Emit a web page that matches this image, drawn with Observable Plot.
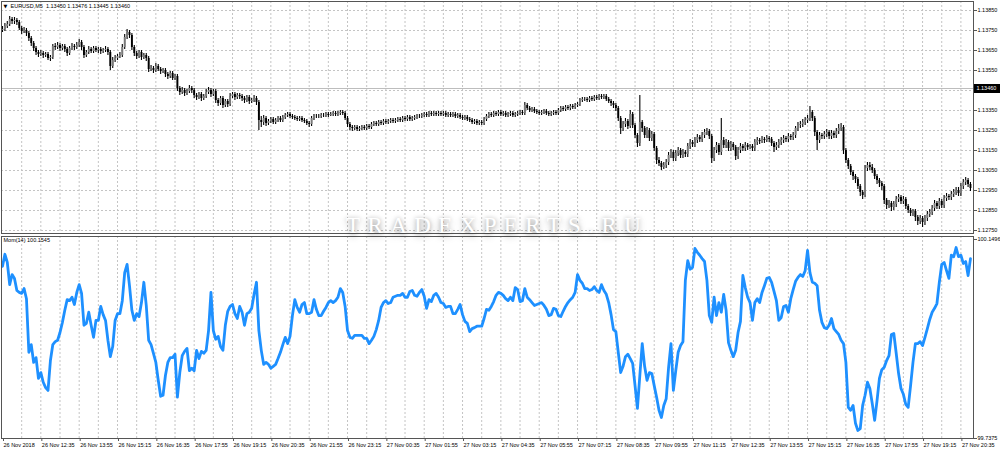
<!DOCTYPE html>
<html><head><meta charset="utf-8">
<script src="https://cdn.jsdelivr.net/npm/d3@7"></script>
<script src="https://cdn.jsdelivr.net/npm/@observablehq/plot@0.6"></script>
<style>
body{margin:0;background:#fff;}
#wrap{position:relative;width:1000px;height:455px;overflow:hidden;background:#fff;}
#wrap svg{display:block;}
#wm{position:absolute;left:346px;top:214px;font-family:"Liberation Serif",serif;font-size:23px;line-height:1;letter-spacing:7.4px;color:#fff;white-space:nowrap;pointer-events:none;text-shadow:0 3px 7px rgba(0,0,0,0.38),0 0 4px rgba(0,0,0,0.22);}
</style></head>
<body><div id="wrap"><div id="price"></div><div id="mom"></div><div id="wm">TRADEXPERTS.RU</div></div>
<script>
// ---- data ----
const symbol = "EURUSD,M5";
const headerValues = [1.13450, 1.13476, 1.13445, 1.13460];
const currentPrice = 1.13460;
const gridPrices = [1.12750, 1.12850, 1.12950, 1.13050, 1.13150, 1.13250, 1.13350, 1.13450, 1.13550, 1.13650, 1.13750, 1.13850];
const priceTicks = [1.12750, 1.12850, 1.12950, 1.13050, 1.13150, 1.13250, 1.13350, 1.13550, 1.13650, 1.13750, 1.13850];
const momLabel = "Mom(14) 100.1545";
const momTicks = [100.1496, 99.7375];
const timeLabels = ["26 Nov 2018","26 Nov 12:35","26 Nov 13:55","26 Nov 15:15","26 Nov 16:35","26 Nov 17:55","26 Nov 19:15","26 Nov 20:35","26 Nov 21:55","26 Nov 23:15","27 Nov 00:35","27 Nov 01:55","27 Nov 03:15","27 Nov 04:35","27 Nov 05:55","27 Nov 07:15","27 Nov 08:35","27 Nov 09:55","27 Nov 11:15","27 Nov 12:35","27 Nov 13:55","27 Nov 15:15","27 Nov 16:35","27 Nov 17:55","27 Nov 19:15","27 Nov 20:35"];
const firstBar = "2018-11-26T11:15:00Z"; // M5 bars
const firstOpen = 1.13750;
const closes = [
1.13755,1.13770,1.13780,1.13805,1.13795,1.13800,1.13790,1.13760,1.13745,1.13750,
1.13735,1.13710,1.13685,1.13660,1.13640,1.13630,1.13635,1.13625,1.13630,1.13610,
1.13615,1.13670,1.13665,1.13675,1.13660,1.13670,1.13655,1.13635,1.13660,1.13670,
1.13665,1.13675,1.13690,1.13665,1.13625,1.13640,1.13655,1.13645,1.13660,1.13650,
1.13655,1.13645,1.13650,1.13655,1.13640,1.13570,1.13600,1.13610,1.13620,1.13625,
1.13665,1.13715,1.13740,1.13725,1.13665,1.13635,1.13620,1.13640,1.13615,1.13625,
1.13610,1.13555,1.13560,1.13550,1.13570,1.13555,1.13545,1.13550,1.13530,1.13520,
1.13535,1.13510,1.13520,1.13460,1.13440,1.13450,1.13435,1.13445,1.13460,1.13450,
1.13425,1.13415,1.13430,1.13410,1.13420,1.13440,1.13450,1.13430,1.13445,1.13400,
1.13385,1.13410,1.13375,1.13395,1.13380,1.13420,1.13430,1.13415,1.13425,1.13420,
1.13410,1.13400,1.13415,1.13395,1.13400,1.13410,1.13390,1.13300,1.13290,1.13310,
1.13285,1.13295,1.13305,1.13290,1.13300,1.13310,1.13300,1.13315,1.13325,1.13330,
1.13320,1.13315,1.13310,1.13305,1.13310,1.13300,1.13295,1.13285,1.13280,1.13310,
1.13320,1.13320,1.13320,1.13325,1.13325,1.13330,1.13325,1.13330,1.13335,1.13330,
1.13335,1.13340,1.13335,1.13310,1.13280,1.13265,1.13260,1.13265,1.13255,1.13260,
1.13265,1.13260,1.13270,1.13265,1.13280,1.13285,1.13280,1.13290,1.13285,1.13295,
1.13290,1.13295,1.13300,1.13295,1.13300,1.13305,1.13300,1.13310,1.13305,1.13315,
1.13305,1.13310,1.13315,1.13320,1.13320,1.13325,1.13330,1.13325,1.13335,1.13330,
1.13335,1.13330,1.13335,1.13330,1.13335,1.13325,1.13330,1.13325,1.13330,1.13320,
1.13325,1.13315,1.13310,1.13315,1.13305,1.13300,1.13290,1.13295,1.13285,1.13290,
1.13285,1.13305,1.13320,1.13330,1.13325,1.13335,1.13330,1.13340,1.13330,1.13335,
1.13325,1.13330,1.13335,1.13325,1.13330,1.13335,1.13340,1.13335,1.13375,1.13360,
1.13350,1.13355,1.13345,1.13340,1.13335,1.13340,1.13345,1.13335,1.13330,1.13335,
1.13340,1.13335,1.13350,1.13360,1.13355,1.13365,1.13360,1.13370,1.13365,1.13375,
1.13380,1.13400,1.13405,1.13405,1.13400,1.13410,1.13405,1.13415,1.13410,1.13420,
1.13415,1.13420,1.13405,1.13395,1.13385,1.13375,1.13360,1.13310,1.13260,1.13280,
1.13295,1.13270,1.13330,1.13275,1.13225,1.13185,1.13290,1.13260,1.13225,1.13250,
1.13210,1.13230,1.13160,1.13100,1.13085,1.13065,1.13075,1.13090,1.13125,1.13140,
1.13110,1.13135,1.13150,1.13125,1.13140,1.13130,1.13170,1.13190,1.13180,1.13200,
1.13215,1.13205,1.13225,1.13240,1.13245,1.13220,1.13110,1.13150,1.13175,1.13140,
1.13200,1.13175,1.13190,1.13160,1.13180,1.13165,1.13120,1.13150,1.13170,1.13160,
1.13175,1.13165,1.13170,1.13160,1.13190,1.13200,1.13195,1.13205,1.13200,1.13210,
1.13205,1.13185,1.13165,1.13175,1.13190,1.13200,1.13210,1.13205,1.13220,1.13215,
1.13225,1.13260,1.13275,1.13280,1.13290,1.13300,1.13310,1.13340,1.13310,1.13240,
1.13200,1.13225,1.13220,1.13230,1.13240,1.13220,1.13235,1.13225,1.13245,1.13260,
1.13265,1.13150,1.13100,1.13070,1.13040,1.13020,1.13005,1.12970,1.12940,1.12925,
1.13060,1.13075,1.13065,1.13050,1.13020,1.13000,1.12985,1.12970,1.12900,1.12875,
1.12885,1.12865,1.12880,1.12905,1.12915,1.12895,1.12905,1.12870,1.12850,1.12835,
1.12845,1.12815,1.12795,1.12810,1.12790,1.12810,1.12830,1.12840,1.12860,1.12885,
1.12870,1.12895,1.12875,1.12910,1.12920,1.12915,1.12930,1.12940,1.12950,1.12935,
1.12970,1.12990,1.13000,1.12980,1.12960];
const highs = [
1.13770,1.13785,1.13795,1.13820,1.13815,1.13815,1.13810,1.13800,1.13770,1.13765,
1.13760,1.13745,1.13720,1.13695,1.13670,1.13650,1.13650,1.13645,1.13640,1.13640,
1.13625,1.13680,1.13685,1.13690,1.13685,1.13680,1.13680,1.13665,1.13670,1.13685,
1.13680,1.13690,1.13705,1.13700,1.13675,1.13650,1.13670,1.13665,1.13670,1.13670,
1.13665,1.13665,1.13660,1.13670,1.13665,1.13650,1.13615,1.13625,1.13630,1.13640,
1.13680,1.13730,1.13755,1.13750,1.13735,1.13675,1.13645,1.13650,1.13650,1.13635,
1.13635,1.13620,1.13575,1.13570,1.13585,1.13580,1.13565,1.13560,1.13560,1.13540,
1.13545,1.13545,1.13530,1.13530,1.13470,1.13465,1.13460,1.13455,1.13475,1.13470,
1.13460,1.13435,1.13440,1.13440,1.13430,1.13455,1.13465,1.13460,1.13455,1.13455,
1.13410,1.13420,1.13420,1.13405,1.13405,1.13435,1.13440,1.13440,1.13435,1.13435,
1.13430,1.13420,1.13425,1.13425,1.13410,1.13425,1.13420,1.13400,1.13320,1.13325,
1.13320,1.13305,1.13315,1.13315,1.13310,1.13320,1.13320,1.13325,1.13335,1.13340,
1.13340,1.13330,1.13325,1.13320,1.13320,1.13320,1.13310,1.13305,1.13295,1.13320,
1.13330,1.13330,1.13330,1.13335,1.13335,1.13340,1.13340,1.13340,1.13345,1.13345,
1.13345,1.13350,1.13350,1.13345,1.13320,1.13290,1.13275,1.13275,1.13275,1.13270,
1.13275,1.13275,1.13280,1.13280,1.13290,1.13295,1.13295,1.13300,1.13300,1.13305,
1.13305,1.13305,1.13310,1.13310,1.13310,1.13315,1.13315,1.13320,1.13320,1.13325,
1.13325,1.13320,1.13325,1.13330,1.13330,1.13335,1.13340,1.13340,1.13345,1.13345,
1.13345,1.13345,1.13345,1.13345,1.13345,1.13345,1.13340,1.13340,1.13340,1.13340,
1.13335,1.13335,1.13325,1.13325,1.13325,1.13315,1.13310,1.13305,1.13305,1.13300,
1.13300,1.13315,1.13330,1.13340,1.13340,1.13345,1.13345,1.13350,1.13350,1.13345,
1.13345,1.13340,1.13345,1.13345,1.13340,1.13345,1.13350,1.13350,1.13390,1.13385,
1.13370,1.13365,1.13365,1.13355,1.13350,1.13350,1.13355,1.13355,1.13345,1.13345,
1.13350,1.13350,1.13360,1.13370,1.13370,1.13375,1.13375,1.13380,1.13380,1.13385,
1.13390,1.13410,1.13415,1.13415,1.13415,1.13420,1.13420,1.13425,1.13425,1.13430,
1.13430,1.13430,1.13430,1.13415,1.13405,1.13395,1.13385,1.13370,1.13320,1.13295,
1.13310,1.13305,1.13350,1.13340,1.13285,1.13235,1.13425,1.13300,1.13270,1.13265,
1.13260,1.13245,1.13240,1.13170,1.13115,1.13095,1.13090,1.13105,1.13140,1.13155,
1.13150,1.13150,1.13165,1.13160,1.13155,1.13150,1.13185,1.13205,1.13200,1.13215,
1.13230,1.13225,1.13240,1.13255,1.13260,1.13255,1.13230,1.13165,1.13190,1.13185,
1.13310,1.13215,1.13205,1.13200,1.13195,1.13190,1.13175,1.13165,1.13185,1.13180,
1.13190,1.13185,1.13180,1.13180,1.13205,1.13215,1.13210,1.13220,1.13215,1.13225,
1.13220,1.13215,1.13195,1.13190,1.13205,1.13215,1.13225,1.13220,1.13235,1.13230,
1.13240,1.13270,1.13290,1.13295,1.13305,1.13315,1.13325,1.13370,1.13350,1.13320,
1.13250,1.13240,1.13235,1.13245,1.13255,1.13250,1.13250,1.13245,1.13260,1.13280,
1.13285,1.13275,1.13160,1.13110,1.13080,1.13050,1.13030,1.13015,1.12980,1.12950,
1.13075,1.13090,1.13090,1.13080,1.13060,1.13030,1.13010,1.12995,1.12980,1.12910,
1.12900,1.12895,1.12895,1.12920,1.12930,1.12925,1.12920,1.12915,1.12880,1.12860,
1.12855,1.12855,1.12825,1.12825,1.12820,1.12825,1.12845,1.12855,1.12875,1.12900,
1.12895,1.12910,1.12905,1.12925,1.12935,1.12930,1.12945,1.12955,1.12965,1.12965,
1.12985,1.13005,1.13015,1.13010,1.12990];
const lows = [
1.13740,1.13745,1.13760,1.13770,1.13780,1.13780,1.13775,1.13750,1.13730,1.13735,
1.13720,1.13695,1.13670,1.13645,1.13625,1.13615,1.13620,1.13610,1.13615,1.13600,
1.13595,1.13605,1.13650,1.13655,1.13645,1.13650,1.13640,1.13620,1.13625,1.13650,
1.13650,1.13655,1.13665,1.13650,1.13610,1.13615,1.13630,1.13635,1.13635,1.13640,
1.13635,1.13630,1.13635,1.13640,1.13625,1.13550,1.13560,1.13590,1.13600,1.13610,
1.13615,1.13655,1.13705,1.13710,1.13650,1.13620,1.13605,1.13610,1.13600,1.13605,
1.13595,1.13540,1.13545,1.13535,1.13540,1.13545,1.13530,1.13535,1.13515,1.13505,
1.13510,1.13500,1.13500,1.13445,1.13425,1.13430,1.13420,1.13425,1.13435,1.13435,
1.13410,1.13400,1.13405,1.13395,1.13400,1.13410,1.13430,1.13415,1.13420,1.13385,
1.13370,1.13375,1.13360,1.13365,1.13365,1.13370,1.13410,1.13400,1.13405,1.13405,
1.13395,1.13385,1.13390,1.13380,1.13385,1.13390,1.13375,1.13250,1.13265,1.13275,
1.13270,1.13275,1.13285,1.13280,1.13280,1.13290,1.13290,1.13290,1.13305,1.13315,
1.13310,1.13305,1.13300,1.13295,1.13295,1.13290,1.13285,1.13275,1.13265,1.13270,
1.13300,1.13310,1.13310,1.13310,1.13315,1.13315,1.13315,1.13320,1.13320,1.13320,
1.13320,1.13325,1.13325,1.13300,1.13265,1.13250,1.13245,1.13250,1.13245,1.13245,
1.13250,1.13250,1.13250,1.13255,1.13255,1.13270,1.13270,1.13270,1.13275,1.13275,
1.13280,1.13280,1.13285,1.13285,1.13285,1.13290,1.13290,1.13290,1.13295,1.13295,
1.13295,1.13295,1.13300,1.13305,1.13310,1.13310,1.13315,1.13315,1.13315,1.13320,
1.13320,1.13320,1.13320,1.13320,1.13320,1.13315,1.13315,1.13315,1.13315,1.13310,
1.13310,1.13305,1.13300,1.13300,1.13295,1.13290,1.13280,1.13280,1.13275,1.13275,
1.13275,1.13275,1.13295,1.13310,1.13315,1.13315,1.13320,1.13320,1.13320,1.13320,
1.13315,1.13315,1.13320,1.13315,1.13315,1.13320,1.13325,1.13325,1.13325,1.13350,
1.13340,1.13340,1.13335,1.13330,1.13325,1.13325,1.13330,1.13325,1.13320,1.13320,
1.13325,1.13325,1.13325,1.13340,1.13345,1.13345,1.13350,1.13350,1.13355,1.13355,
1.13365,1.13370,1.13390,1.13395,1.13390,1.13390,1.13395,1.13395,1.13400,1.13400,
1.13405,1.13405,1.13395,1.13385,1.13370,1.13360,1.13345,1.13295,1.13230,1.13245,
1.13265,1.13255,1.13260,1.13260,1.13210,1.13165,1.13170,1.13240,1.13210,1.13210,
1.13195,1.13195,1.13145,1.13080,1.13070,1.13050,1.13055,1.13060,1.13075,1.13110,
1.13095,1.13095,1.13120,1.13110,1.13110,1.13115,1.13115,1.13155,1.13165,1.13165,
1.13185,1.13190,1.13190,1.13210,1.13225,1.13205,1.13085,1.13095,1.13135,1.13125,
1.13125,1.13160,1.13160,1.13145,1.13145,1.13150,1.13100,1.13105,1.13135,1.13145,
1.13145,1.13150,1.13155,1.13145,1.13145,1.13175,1.13180,1.13185,1.13185,1.13190,
1.13190,1.13170,1.13140,1.13150,1.13160,1.13175,1.13185,1.13190,1.13190,1.13200,
1.13200,1.13210,1.13245,1.13260,1.13265,1.13275,1.13285,1.13295,1.13295,1.13220,
1.13150,1.13185,1.13205,1.13205,1.13215,1.13205,1.13205,1.13210,1.13210,1.13230,
1.13245,1.13130,1.13085,1.13055,1.13025,1.13000,1.12985,1.12955,1.12920,1.12905,
1.12915,1.13045,1.13050,1.13035,1.13005,1.12980,1.12965,1.12950,1.12880,1.12855,
1.12860,1.12845,1.12850,1.12865,1.12890,1.12880,1.12880,1.12855,1.12835,1.12820,
1.12820,1.12795,1.12775,1.12780,1.12765,1.12775,1.12795,1.12815,1.12825,1.12845,
1.12855,1.12855,1.12860,1.12860,1.12895,1.12900,1.12900,1.12915,1.12925,1.12920,
1.12920,1.12955,1.12975,1.12965,1.12945];
const momentum = [
100.094,100.119,100.102,100.056,100.077,100.069,100.044,100.040,100.038,100.048,
100.027,99.916,99.932,99.895,99.905,99.862,99.874,99.854,99.843,99.837,
99.899,99.932,99.938,99.941,99.957,99.978,100.003,100.025,100.023,100.030,
100.015,100.040,100.056,100.038,99.972,99.976,99.999,99.972,99.947,99.982,
99.982,100.011,99.994,99.982,99.941,99.907,99.928,99.982,99.996,99.996,
100.023,100.081,100.098,100.054,100.003,99.982,99.996,99.990,100.019,100.061,
100.013,99.941,99.932,99.914,99.895,99.858,99.825,99.827,99.868,99.895,
99.905,99.905,99.912,99.823,99.874,99.909,99.918,99.924,99.878,99.883,
99.878,99.920,99.903,99.918,99.914,99.920,99.961,100.040,99.961,99.943,
99.949,99.928,99.920,99.972,100.001,100.011,100.015,99.996,99.986,100.011,
99.999,99.972,99.996,99.999,100.007,100.036,100.061,99.961,99.920,99.891,
99.895,99.891,99.883,99.887,99.891,99.903,99.916,99.932,99.947,99.934,
99.949,99.992,100.025,100.009,99.999,100.015,100.019,99.996,99.996,99.999,
100.025,100.005,99.992,99.992,100.001,100.009,100.019,100.023,100.019,100.023,
100.030,100.048,100.040,100.011,99.961,99.947,99.945,99.951,99.951,99.951,
99.951,99.945,99.945,99.934,99.941,99.949,99.963,99.982,100.009,100.019,
100.023,100.017,100.019,100.030,100.032,100.034,100.034,100.038,100.030,100.030,
100.042,100.044,100.034,100.032,100.040,100.046,100.032,100.007,100.025,100.021,
100.034,100.038,100.030,100.019,100.017,100.009,100.011,100.011,99.996,99.996,
100.005,100.015,99.994,99.980,99.976,99.959,99.965,99.967,99.970,99.970,
99.970,99.986,100.005,100.003,100.011,100.021,100.034,100.040,100.038,100.034,
100.027,100.023,100.030,100.023,100.050,100.046,100.021,100.023,100.048,100.030,
100.025,100.019,100.013,100.015,100.017,100.019,100.013,100.005,99.992,99.994,
100.007,100.005,99.992,99.990,100.001,100.011,100.019,100.025,100.030,100.040,
100.077,100.065,100.059,100.048,100.048,100.044,100.046,100.052,100.044,100.040,
100.056,100.044,100.036,100.019,99.994,99.963,99.959,99.916,99.874,99.887,
99.907,99.912,99.903,99.893,99.847,99.800,99.868,99.934,99.887,99.858,
99.874,99.872,99.847,99.823,99.796,99.781,99.806,99.820,99.885,99.934,
99.837,99.878,99.916,99.930,99.938,100.065,100.106,100.088,100.092,100.131,
100.123,100.117,100.110,100.104,100.065,99.992,99.978,100.030,99.992,100.019,
99.999,100.036,100.003,99.936,99.920,99.907,99.920,99.957,99.980,100.075,
100.050,100.030,100.019,99.982,100.019,100.027,100.019,100.040,100.054,100.069,
100.071,100.061,100.042,100.023,99.982,99.988,100.011,100.013,99.999,100.027,
100.046,100.063,100.071,100.077,100.073,100.085,100.127,100.081,100.061,100.059,
100.054,100.003,99.978,99.967,99.965,99.972,99.986,99.965,99.959,99.953,
99.941,99.934,99.895,99.802,99.796,99.806,99.769,99.754,99.758,99.806,
99.827,99.854,99.841,99.810,99.775,99.816,99.862,99.880,99.885,99.899,
99.909,99.953,99.955,99.914,99.872,99.841,99.829,99.808,99.802,99.847,
99.895,99.934,99.934,99.938,99.930,99.947,99.965,99.984,99.999,100.007,
100.017,100.061,100.098,100.102,100.085,100.069,100.117,100.114,100.133,100.114,
100.117,100.100,100.104,100.075,100.110];

// ---- build ----
const BAR = 5 * 60 * 1000;
const t0 = Date.parse(firstBar);
const barTime = i => new Date(t0 + i * BAR);
const bars = closes.map((c, i) => ({t: barTime(i), o: i ? closes[i - 1] : firstOpen, h: highs[i], l: lows[i], c}));
const momData = momentum.map((v, i) => ({t: barTime(i), v}));
const xDomain = [new Date(t0 - 0.42 * BAR), new Date(t0 + 405.26 * BAR)];
// price-scale column right of the chart (extrapolated through the x scale)
const scaleColumn = [new Date(+xDomain[1] + 0.4 * BAR), new Date(+xDomain[1] + 11.4 * BAR)];
const gridTimes = d3.range(8, 405, 8).map(barTime);
const labelTimes = timeLabels.map((s, k) => {
  if (k === 0) return new Date(t0);
  const [d, , hm] = s.split(" ");
  const [hh, mm] = hm.split(":").map(Number);
  return new Date(Date.UTC(2018, 10, +d, hh, mm));
});
const labelByTime = new Map(labelTimes.map((d, k) => [+d, timeLabels[k]]));
const FONT = '"Liberation Sans", Arial, sans-serif';
const gridStyle = {stroke: "#c4c4c4", strokeDasharray: "2,2", strokeWidth: 1};
const frameColor = "#555";

const pricePlot = Plot.plot({
  width: 1000, height: 235,
  marginLeft: 1, marginRight: 27, marginTop: 1, marginBottom: 2,
  style: {fontFamily: FONT, fontSize: "5.5px", background: "#fff", color: "#000", overflow: "visible"},
  x: {type: "utc", domain: xDomain, axis: null},
  y: {domain: [1.12735, 1.13895]},
  marks: [
    Plot.ruleY(gridPrices, gridStyle),
    Plot.ruleX(gridTimes, gridStyle),
    Plot.ruleY([currentPrice], {stroke: "#bdbdbd", strokeWidth: 1}),
    Plot.ruleX(bars, {x: "t", y1: "l", y2: "h", stroke: "#000", strokeWidth: 1.1}),
    Plot.ruleX(bars, {x: "t", y1: "o", y2: "c", stroke: d => d.c < d.o ? "#000" : "#7a7a7a", strokeWidth: 1.9}),
    Plot.axisY({anchor: "right", ticks: priceTicks, tickFormat: d => d.toFixed(5), tickSize: 3, tickPadding: 1, label: null, stroke: frameColor}),
    Plot.ruleY([currentPrice], {x1: scaleColumn[0], x2: scaleColumn[1], stroke: "#000", strokeWidth: 9, clip: false}),
    Plot.text([currentPrice], {y: d => d, x: scaleColumn[0], text: d => d.toFixed(5), textAnchor: "start", dx: 2,
      fill: "#fff", clip: false}),
    Plot.frame({stroke: frameColor}),
    Plot.text(["\u25BC"], {frameAnchor: "top-left", dx: 2, dy: 3, fontSize: 5, lineAnchor: "top", fontFamily: "DejaVu Sans"}),
    Plot.text([symbol + "  " + headerValues.map(v => v.toFixed(5)).join(" ")], {frameAnchor: "top-left", dx: 9, dy: 2.5, lineAnchor: "top", textAnchor: "start"})
  ]
});

const momPlot = Plot.plot({
  width: 1000, height: 220,
  marginLeft: 1, marginRight: 27, marginTop: 1, marginBottom: 17,
  style: {fontFamily: FONT, fontSize: "5.5px", background: "#fff", color: "#000", overflow: "visible"},
  x: {type: "utc", domain: xDomain},
  y: {domain: [99.7375, 100.1558]},
  marks: [
    Plot.ruleX(gridTimes, gridStyle),
    Plot.line(momData, {x: "t", y: "v", stroke: "#1e90ff", strokeWidth: 2.8, strokeLinejoin: "round", strokeLinecap: "round"}),
    Plot.axisY({anchor: "right", ticks: momTicks, tickFormat: d => d.toFixed(4), tickSize: 3, tickPadding: 1, label: null, stroke: frameColor}),
    Plot.axisX({ticks: labelTimes, tickFormat: d => labelByTime.get(+d), tickSize: 3, tickPadding: 2, textAnchor: "start", dx: 1, label: null, stroke: frameColor}),
    Plot.frame({stroke: frameColor}),
    Plot.text([momLabel], {frameAnchor: "top-left", dx: 2, dy: 2, lineAnchor: "top", textAnchor: "start"})
  ]
});

document.getElementById("price").appendChild(pricePlot);
document.getElementById("mom").appendChild(momPlot);
</script>
</body></html>
